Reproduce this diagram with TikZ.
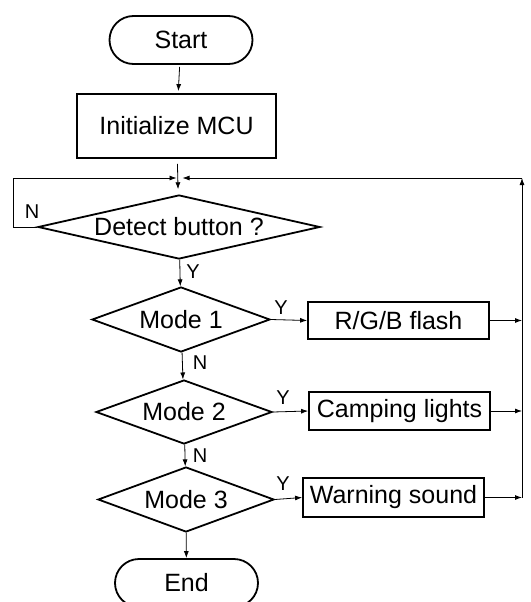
\documentclass[tikz,border=0pt]{standalone}
\usepackage{fontspec}
\setmainfont{Liberation Sans}
\usetikzlibrary{shapes.geometric,shapes.misc,arrows.meta}

\begin{document}
\begin{tikzpicture}[x=1pt,y=-1pt,
    font=\fontsize{25}{29}\selectfont,
    terminal/.style ={rounded rectangle, draw, line width=1.8pt, minimum width=143pt, minimum height=48pt, inner sep=0pt},
    process/.style ={rectangle, draw, line width=1.8pt, minimum width=181pt, inner sep=0pt},
    decision/.style ={diamond, draw, line width=1.8pt, inner sep=0pt},
    flow/.style ={-{Latex[length=7pt,width=5pt]}, line width=0.8pt},
    answer/.style ={font=\fontsize{20}{23}\selectfont, inner sep=0pt}]
   \useasboundingbox (0,0) rectangle (530,602);

   \node[terminal] (start) at (181,40) {Start};
   \node[process, minimum width=199pt, minimum height=64pt] (init) at (176.5,126) {Initialize MCU};
   \node[decision, aspect=4.4, minimum width=282pt, minimum height=64pt] (detect) at (179,227) {Detect button ?};
   \node[decision, aspect=2.75, minimum width=178pt, minimum height=65pt] (mode1) at (181,319.5) {Mode 1};
   \node[decision, aspect=2.75, minimum width=176pt, minimum height=64pt] (mode2) at (184,412) {Mode 2};
   \node[decision, aspect=2.75, minimum width=176pt, minimum height=65pt] (mode3) at (186,499.5) {Mode 3};
   \node[process, minimum height=37pt] (rgb) at (398.5,320.5) {R/G/B flash};
   \node[process, minimum height=38pt] (camp) at (399.5,411) {Camping lights};
   \node[process, minimum height=39pt] (warn) at (393.5,497.5) {Warning sound};
   \node[terminal] (end) at (186.5,583) {End};

   \coordinate (join) at (179.5,178);
   \coordinate (left) at (13,178);
   \coordinate (rail) at (522,178);

   \node[answer] (n0) at (32,212) {N};
   \node[answer] (y0) at (193,272) {Y};
   \node[answer] (y1) at (281,308) {Y};
   \node[answer] (n1) at (200,363) {N};
   \node[answer] (y2) at (283,398) {Y};
   \node[answer] (n2) at (200,456) {N};
   \node[answer] (y3) at (283,484) {Y};

   \draw[flow, shorten <=2pt, shorten >=2pt] (start) -- (init);
   \draw[flow, shorten <=5pt, shorten >=5pt] (init) -- (detect);
   \draw[line width=0.8pt] (detect.west) -| (left);
   \draw[flow, shorten >=3pt] (left) -- (join);
   \draw[flow] (detect) -- (mode1);
   \draw[flow] (mode1) -- (mode2);
   \draw[flow] (mode2) -- (mode3);
   \draw[flow] (mode3) -- (end);
   \draw[flow] (mode1.east) -- (rgb.west);
   \draw[flow] (mode2.east) -- (camp.west);
   \draw[flow] (mode3.east) -- (warn.west);
   \draw[flow] (rgb.east) -- (rgb.east -| rail);
   \draw[flow] (camp.east) -- (camp.east -| rail);
   \draw[flow] (warn.east) -- (warn.east -| rail);
   \draw[flow] (warn.east -| rail) -- (rail);
   \draw[flow, shorten >=3pt] (rail) -- (join);
 \end{tikzpicture}
\end{document}
